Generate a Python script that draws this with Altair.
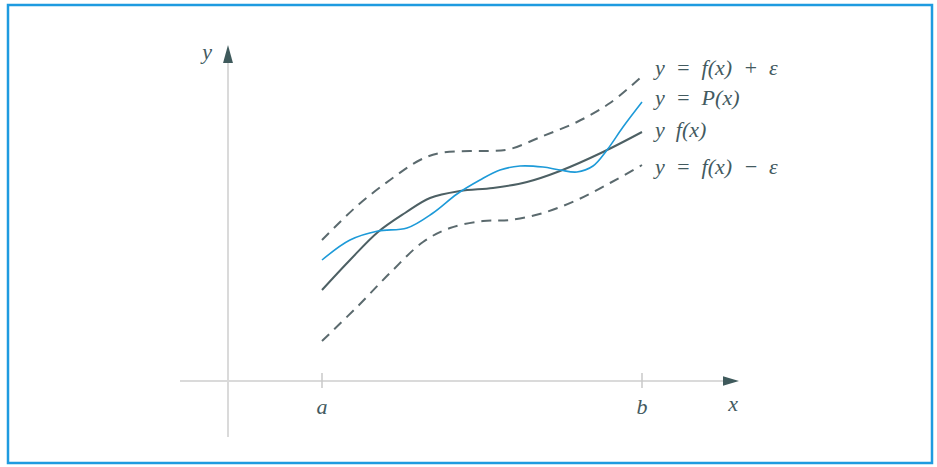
import altair as alt
import pandas as pd

# Data units: origin at the axes crossing, y upward
f_x = [94, 122, 150, 177, 202, 232, 265, 299, 332, 375, 414]
f_y = [91, 121, 149, 168, 183, 190, 193, 199, 210, 229, 249]

p_x = [94, 122, 150, 179, 205, 229, 252, 272, 292, 315, 332, 349, 365, 379, 395, 414]
p_y = [121, 141, 150, 153, 168, 187, 201, 211, 215, 214, 211, 209, 215, 231, 254, 279]

up_x = [94, 129, 162, 192, 212, 242, 262, 282, 315, 349, 382, 412]
up_y = [141, 175, 201, 221, 228, 230, 230, 232, 245, 259, 278, 303]

lo_x = [94, 129, 162, 195, 222, 255, 282, 315, 349, 382, 414]
lo_y = [40, 74, 108, 139, 153, 160, 161, 168, 181, 198, 216]

SP = "\u2002"
curve_labels = [f"y{SP}={SP}f(x){SP}+{SP}ε", f"y{SP}={SP}P(x)", f"y{SP}f(x)", f"y{SP}={SP}f(x){SP}−{SP}ε"]
label_y = [313, 283, 251, 214]
label_x = 427

axis_text = ["y", "a", "b", "x"]
axis_text_x = [-21, 94, 414, 505]
axis_text_y = [329, -26, -26, -23]

tick_pos = [94, 414]

W, H = 937, 467
X0, Y0 = 228, 381  # pixel location of origin
XD = [-X0, W - X0]
YD = [Y0 - H, Y0]

FONT = "Liberation Serif"
TEXT = "#435a5f"
DARK = "#4d6064"
BLUE = "#1d9ad8"
AXIS = "#dadada"

def X(field="x"):
    return alt.X(field, type="quantitative", scale=alt.Scale(domain=XD, nice=False, zero=False), axis=None)

def Y(field="y"):
    return alt.Y(field, type="quantitative", scale=alt.Scale(domain=YD, nice=False, zero=False), axis=None)

frame = alt.Chart(pd.DataFrame({"x": [8 - X0], "x2": [932 - X0],
                                "y": [Y0 - 5], "y2": [Y0 - 463]})).mark_rect(
    fill="transparent", stroke="#1e9be0", strokeWidth=2.5
).encode(x=X(), x2="x2:Q", y=Y(), y2="y2:Q")

axes_df = pd.DataFrame({
    "x": [-48, 0], "x2": [500, 0], "y": [0, 321], "y2": [0, -56]
})
axes = alt.Chart(axes_df).mark_rule(color=AXIS, strokeWidth=2).encode(
    x=X(), x2="x2:Q", y=Y(), y2="y2:Q")

ticks = alt.Chart(pd.DataFrame({"x": tick_pos, "y": [-7, -7], "y2": [8, 8]})).mark_rule(
    color="#c8c8c8", strokeWidth=1.5).encode(x=X(), y=Y(), y2="y2:Q")

arrow_x = alt.Chart(pd.DataFrame({"x": [503], "y": [0]})).mark_point(
    shape="M1,0L-1,-0.6L-1,0.6Z", filled=True, size=256, color="#3f5a5c", opacity=1
).encode(x=X(), y=Y())
arrow_y = alt.Chart(pd.DataFrame({"x": [0], "y": [327]})).mark_point(
    shape="M0,-1L-0.55,1L0.55,1Z", filled=True, size=324, color="#3f5a5c", opacity=1
).encode(x=X(), y=Y())

def line(xv, yv, color, width, dash=None):
    kw = dict(color=color, strokeWidth=width, interpolate="catmull-rom")
    if dash:
        kw["strokeDash"] = dash
    return alt.Chart(pd.DataFrame({"x": xv, "y": yv})).mark_line(**kw).encode(
        x=X(), y=Y(), order="x:Q")

l_up = line(up_x, up_y, "#5b6a6e", 2, [10, 7])
l_lo = line(lo_x, lo_y, "#5b6a6e", 2, [10, 7])
l_f = line(f_x, f_y, DARK, 2)
l_p = line(p_x, p_y, BLUE, 1.6)

labels = alt.Chart(pd.DataFrame({"t": curve_labels, "x": [label_x] * 4, "y": label_y})).mark_text(
    align="left", baseline="middle", font=FONT, fontStyle="italic",
    fontSize=22, color=TEXT
).encode(x=X(), y=Y(), text="t:N")

axlab = alt.Chart(pd.DataFrame({"t": axis_text, "x": axis_text_x, "y": axis_text_y})).mark_text(
    align="center", baseline="middle", font=FONT, fontStyle="italic",
    fontSize=22, color=TEXT
).encode(x=X(), y=Y(), text="t:N")

chart = alt.layer(frame, axes, ticks, l_up, l_lo, l_f, l_p, arrow_x, arrow_y, labels, axlab).properties(
    width=W, height=H, padding=0, autosize=alt.AutoSizeParams(type="none"),
    background="white"
).configure_view(stroke=None)

chart.save("out.html", embed_options={"renderer": "svg", "actions": False})
